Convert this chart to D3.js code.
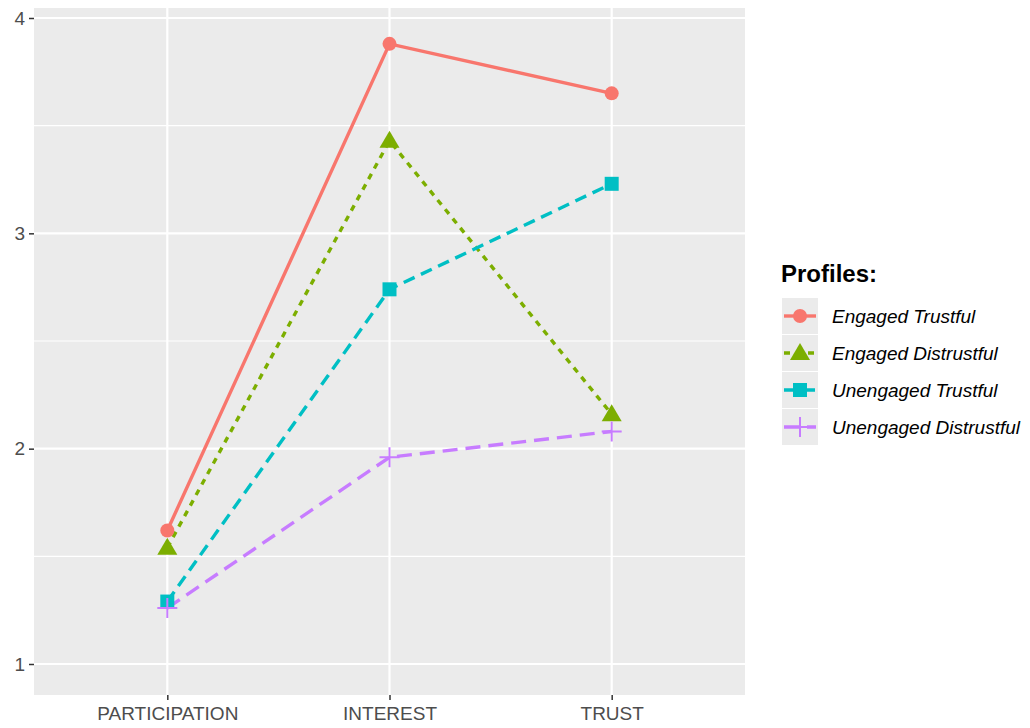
<!DOCTYPE html>
<html><head><meta charset="utf-8">
<script src="https://cdn.jsdelivr.net/npm/d3@7"></script>
<style>body{margin:0;background:#fff;font-family:"Liberation Sans",Arial,sans-serif;}</style>
</head><body><svg id="c" width="1030" height="728"></svg>
<script>
const categories = ["PARTICIPATION","INTEREST","TRUST"];
const seriesNames = ["Engaged Trustful","Engaged Distrustful","Unengaged Trustful","Unengaged Distrustful"];
const engagedTrustful = [1.62, 3.88, 3.65];
const engagedDistrustful = [1.54, 3.43, 2.16];
const unengagedTrustful = [1.29, 2.74, 3.23];
const unengagedDistrustful = [1.26, 1.96, 2.08];
const yTicks = [1,2,3,4];
const yMinor = [1.5,2.5,3.5];
const legendTitle = "Profiles:";

const colors = ["#F8766D","#7CAE00","#00BFC4","#C77CFF"];
const dashes = [null,"6,6","12,7","15,8"];
const shapes = ["circle","triangle","square","plus"];
const values = [engagedTrustful,engagedDistrustful,unengagedTrustful,unengagedDistrustful];

const svg = d3.select("#c");
const L=34,R=745,T=8,B=695;
const x = d3.scalePoint().domain(categories).range([L,R]).padding(0.6);
const y = d3.scaleLinear().domain([1,4]).range([664,18]);

svg.append("rect").attr("x",L).attr("y",T).attr("width",R-L).attr("height",B-T).attr("fill","#EBEBEB");
const g = svg.append("g");
yMinor.forEach(v=>g.append("line").attr("x1",L).attr("x2",R).attr("y1",y(v)).attr("y2",y(v)).attr("stroke","#fff").attr("stroke-width",1.1));
yTicks.forEach(v=>g.append("line").attr("x1",L).attr("x2",R).attr("y1",y(v)).attr("y2",y(v)).attr("stroke","#fff").attr("stroke-width",2.2));
categories.forEach(c=>g.append("line").attr("x1",x(c)).attr("x2",x(c)).attr("y1",T).attr("y2",B).attr("stroke","#fff").attr("stroke-width",2.2));

// axes
const ya = svg.append("g").attr("transform",`translate(${L},0)`).call(d3.axisLeft(y).tickValues(yTicks).tickSize(5).tickPadding(4).tickFormat(d3.format("d")));
ya.select(".domain").remove();
ya.selectAll(".tick line").attr("stroke","#333").attr("stroke-width",1.5);
ya.selectAll("text").attr("fill","#4D4D4D").style("font-size","19px").style("font-family","Liberation Sans, Arial, sans-serif");
const xa = svg.append("g").attr("transform",`translate(0,${B})`).call(d3.axisBottom(x).tickSize(5).tickPadding(7));
xa.select(".domain").remove();
xa.selectAll(".tick line").attr("stroke","#333").attr("stroke-width",1.5);
xa.selectAll("text").attr("fill","#4D4D4D").style("font-size","19px").style("font-family","Liberation Sans, Arial, sans-serif");

function drawShape(sel, shape, cx, cy, color){
  if(shape==="circle") sel.append("circle").attr("cx",cx).attr("cy",cy).attr("r",7).attr("fill",color);
  else if(shape==="triangle") sel.append("path").attr("d",`M${cx},${cy-10}L${cx+10},${cy+7}L${cx-10},${cy+7}Z`).attr("fill",color);
  else if(shape==="square") sel.append("rect").attr("x",cx-7).attr("y",cy-7).attr("width",14).attr("height",14).attr("fill",color);
  else sel.append("path").attr("d",`M${cx-10},${cy}H${cx+10}M${cx},${cy-10}V${cy+10}`).attr("stroke",color).attr("stroke-width",2).attr("fill","none");
}

const line = d3.line().x((d,i)=>x(categories[i])).y(d=>y(d));
values.forEach((vals,k)=>{
  svg.append("path").datum(vals).attr("d",line).attr("fill","none").attr("stroke",colors[k]).attr("stroke-width",3.4)
    .attr("stroke-dasharray",dashes[k]);
});
values.forEach((vals,k)=>{
  vals.forEach((v,i)=>drawShape(svg,shapes[k],x(categories[i]),y(v),colors[k]));
});

// legend
const lg = svg.append("g");
lg.append("text").attr("x",781).attr("y",282).text(legendTitle).attr("font-weight","bold").style("font-size","24px").attr("fill","#000");
seriesNames.forEach((n,k)=>{
  const cy = 316 + k*37;
  lg.append("rect").attr("x",782).attr("y",cy-18).attr("width",36).attr("height",36).attr("fill","#EBEBEB");
  lg.append("line").attr("x1",784).attr("x2",816).attr("y1",cy).attr("y2",cy).attr("stroke",colors[k]).attr("stroke-width",3.4).attr("stroke-dasharray",dashes[k]);
  drawShape(lg,shapes[k],800,cy,colors[k]);
  lg.append("text").attr("x",832).attr("y",cy+7).text(n).attr("font-style","italic").style("font-size","19px").attr("fill","#000");
});
</script></body></html>
